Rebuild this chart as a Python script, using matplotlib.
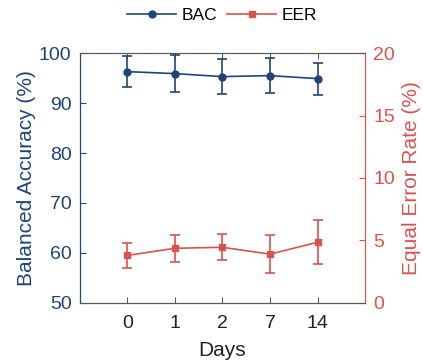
import numpy as np
import matplotlib
matplotlib.use("Agg")
import matplotlib.pyplot as plt
from matplotlib.lines import Line2D

plt.rcParams['font.family'] = ['Liberation Sans', 'DejaVu Sans']

# data
days = ["0", "1", "2", "7", "14"]
bac = [96.3, 95.9, 95.3, 95.5, 94.9]
bac_err = [3.1, 3.7, 3.45, 3.5, 3.2]
eer = [3.8, 4.37, 4.45, 3.9, 4.85]
eer_err = [1.0, 1.1, 1.05, 1.5, 1.75]

blue = "#1f4477"
red = "#d9534f"
gray = "#5a5a5a"

fig = plt.figure(figsize=(4.23, 3.64), dpi=100)
ax = fig.add_axes([0.189, 0.168, 0.674, 0.686])
ax2 = ax.twinx()

x = np.arange(1, len(days) + 1)

ax.errorbar(x, bac, yerr=bac_err, color=blue, marker="o", markersize=5,
            linewidth=1.2, capsize=3.5, elinewidth=1.2, capthick=1.2)
ax2.errorbar(x, eer, yerr=eer_err, color=red, marker="s", markersize=4.5,
             linewidth=1.2, capsize=3.5, elinewidth=1.2, capthick=1.2)

ax.set_xlim(0, 6)
ax.set_xticks(x)
ax.set_xticklabels(days)
ax.set_ylim(50, 100)
ax.set_yticks(np.arange(50, 101, 10))
ax2.set_ylim(0, 20)
ax2.set_yticks(np.arange(0, 21, 5))

ax.set_xlabel("Days", fontsize=15, color="#222222", labelpad=6)
ax.set_ylabel("Balanced Accuracy (%)", fontsize=15, color=blue, labelpad=2)
ax2.set_ylabel("Equal Error Rate (%)", fontsize=15, color=red, labelpad=5)

for a in (ax, ax2):
    a.spines['top'].set_color(gray)
    a.spines['bottom'].set_color(gray)
ax.spines['left'].set_color(blue)
ax2.spines['left'].set_color(blue)
ax.spines['right'].set_color(red)
ax2.spines['right'].set_color(red)

ax.tick_params(axis='x', direction='in', top=True, colors="#222222", labelsize=14,
               length=4, color=gray, pad=9)
ax.tick_params(axis='y', direction='in', colors=blue, labelsize=14, length=4, pad=6)
ax2.tick_params(axis='y', direction='in', colors=red, labelsize=14, length=4, pad=6)

handles = [Line2D([], [], color=blue, marker="o", markersize=5, linewidth=1.2, label="BAC"),
           Line2D([], [], color=red, marker="s", markersize=4.5, linewidth=1.2, label="EER")]
fig.legend(handles=handles, loc="center", bbox_to_anchor=(0.525, 0.958), ncol=2,
           frameon=False, fontsize=12.5, handlelength=2.8, columnspacing=0.6, handletextpad=0.3)

fig.savefig("out.png", dpi=100)
